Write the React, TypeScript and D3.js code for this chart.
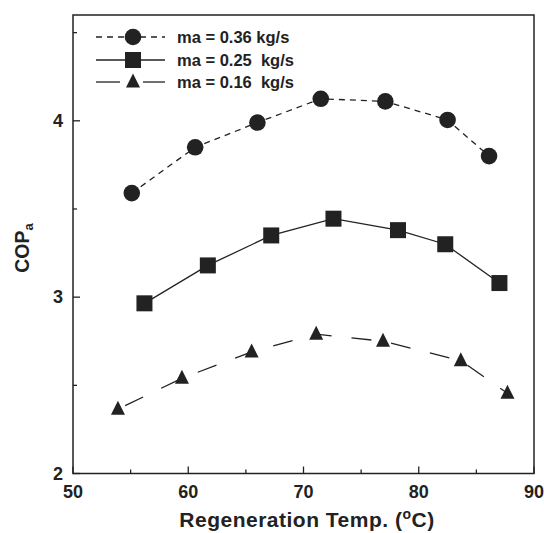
import React from "react";
import * as d3 from "d3";

const x036 = [55.1, 60.6, 66.0, 71.5, 77.1, 82.5, 86.1];
const y036 = [3.59, 3.85, 3.99, 4.125, 4.11, 4.005, 3.8];
const x025 = [56.2, 61.7, 67.2, 72.6, 78.2, 82.3, 87.0];
const y025 = [2.965, 3.18, 3.35, 3.445, 3.38, 3.3, 3.08];
const x016 = [53.9, 59.45, 65.5, 71.1, 76.9, 83.65, 87.7];
const y016 = [2.365, 2.54, 2.69, 2.79, 2.75, 2.64, 2.455];
const xTicks = [50, 60, 70, 80, 90];
const yTicks = [2, 3, 4];
const seriesLabels = ["ma = 0.36 kg/s", "ma = 0.25  kg/s", "ma = 0.16  kg/s"];

const W = 544, H = 533;
const L = 73, R = 534, T = 15, B = 473.5;
const FONT = "'Liberation Sans', Arial, sans-serif";

export default function App() {
  const x = d3.scaleLinear().domain([50, 90]).range([L, R]);
  const y = d3.scaleLinear().domain([2, 4.6]).range([B, T]);
  const line = d3.line<[number, number]>().x(d => x(d[0])).y(d => y(d[1]));
  const s036 = x036.map((v, i) => [v, y036[i]] as [number, number]);
  const s025 = x025.map((v, i) => [v, y025[i]] as [number, number]);
  const s016 = x016.map((v, i) => [v, y016[i]] as [number, number]);
  const minorX = d3.range(55, 90, 10);
  const minorY = [2.5, 3.5, 4.5];
  const tri = (cx: number, cy: number, s: number) =>
    `M${cx},${cy - s * 0.6}L${cx + s / 2},${cy + s * 0.4}L${cx - s / 2},${cy + s * 0.4}Z`;
  const legendY = [37, 60, 82];
  return (
    <svg width={W} height={H} style={{ position: "absolute", left: 0, top: 0 }}>
      <rect x={0} y={0} width={W} height={H} fill="#fff" />
      <rect x={L} y={T} width={R - L} height={B - T} fill="none" stroke="#222" strokeWidth={1.5} />
      {xTicks.map(t => (
        <g key={"xt" + t}>
          <line x1={x(t)} x2={x(t)} y1={B} y2={B - 7} stroke="#222" strokeWidth={1.3} />
          <text x={x(t)} y={B + 24} textAnchor="middle" fontFamily={FONT} fontWeight="bold" fontSize={18} fill="#222">{t}</text>
        </g>
      ))}
      {minorX.map(t => (
        <line key={"xm" + t} x1={x(t)} x2={x(t)} y1={B} y2={B - 4} stroke="#222" strokeWidth={1.3} />
      ))}
      {yTicks.map(t => (
        <g key={"yt" + t}>
          <line x1={L} x2={L + 7} y1={y(t)} y2={y(t)} stroke="#222" strokeWidth={1.3} />
          <text x={L - 10} y={y(t) + 6} textAnchor="end" fontFamily={FONT} fontWeight="bold" fontSize={18} fill="#222">{t}</text>
        </g>
      ))}
      {minorY.map(t => (
        <line key={"ym" + t} x1={L} x2={L + 4} y1={y(t)} y2={y(t)} stroke="#222" strokeWidth={1.3} />
      ))}
      <path d={line(s036) || ""} fill="none" stroke="#222" strokeWidth={1.3} strokeDasharray="6,5" />
      <path d={line(s025) || ""} fill="none" stroke="#222" strokeWidth={1.3} />
      <path d={line(s016) || ""} fill="none" stroke="#222" strokeWidth={1.3} strokeDasharray="20,20" strokeDashoffset={-8} />
      {s036.map((d, i) => <circle key={"c" + i} cx={x(d[0])} cy={y(d[1])} r={8.3} fill="#222" />)}
      {s025.map((d, i) => <rect key={"s" + i} x={x(d[0]) - 8} y={y(d[1]) - 8} width={16} height={16} fill="#222" />)}
      {s016.map((d, i) => <path key={"t" + i} d={tri(x(d[0]), y(d[1]), 14)} fill="#222" />)}

      <line x1={96} x2={165} y1={legendY[0]} y2={legendY[0]} stroke="#222" strokeWidth={1.3} strokeDasharray="6,5" />
      <circle cx={133} cy={legendY[0]} r={8.3} fill="#222" />
      <line x1={96} x2={165} y1={legendY[1]} y2={legendY[1]} stroke="#222" strokeWidth={1.3} />
      <rect x={125} y={legendY[1] - 8} width={16} height={16} fill="#222" />
      <line x1={96} x2={120} y1={legendY[2]} y2={legendY[2]} stroke="#222" strokeWidth={1.3} />
      <line x1={143} x2={165} y1={legendY[2]} y2={legendY[2]} stroke="#222" strokeWidth={1.3} />
      <path d={tri(133, legendY[2], 14)} fill="#222" />
      {seriesLabels.map((s, i) => (
        <text key={"lg" + i} x={177} y={legendY[i] + 6} fontFamily={FONT} fontWeight="bold" fontSize={16.5} fill="#222" style={{ whiteSpace: "pre" }}>{s}</text>
      ))}

      <text transform={`translate(29,248) rotate(-90)`} textAnchor="middle" fontFamily={FONT} fontWeight="bold" fontSize={19.5} fill="#222">
        COP<tspan fontSize={13} dy={4}>a</tspan>
      </text>
      <text x={307} y={527} textAnchor="middle" fontFamily={FONT} fontWeight="bold" fontSize={21} fill="#222" style={{ letterSpacing: "0.5px" }}>
        Regeneration Temp. (<tspan fontSize={14} dy={-8}>o</tspan><tspan dy={8}>C)</tspan>
      </text>
    </svg>
  );
}
